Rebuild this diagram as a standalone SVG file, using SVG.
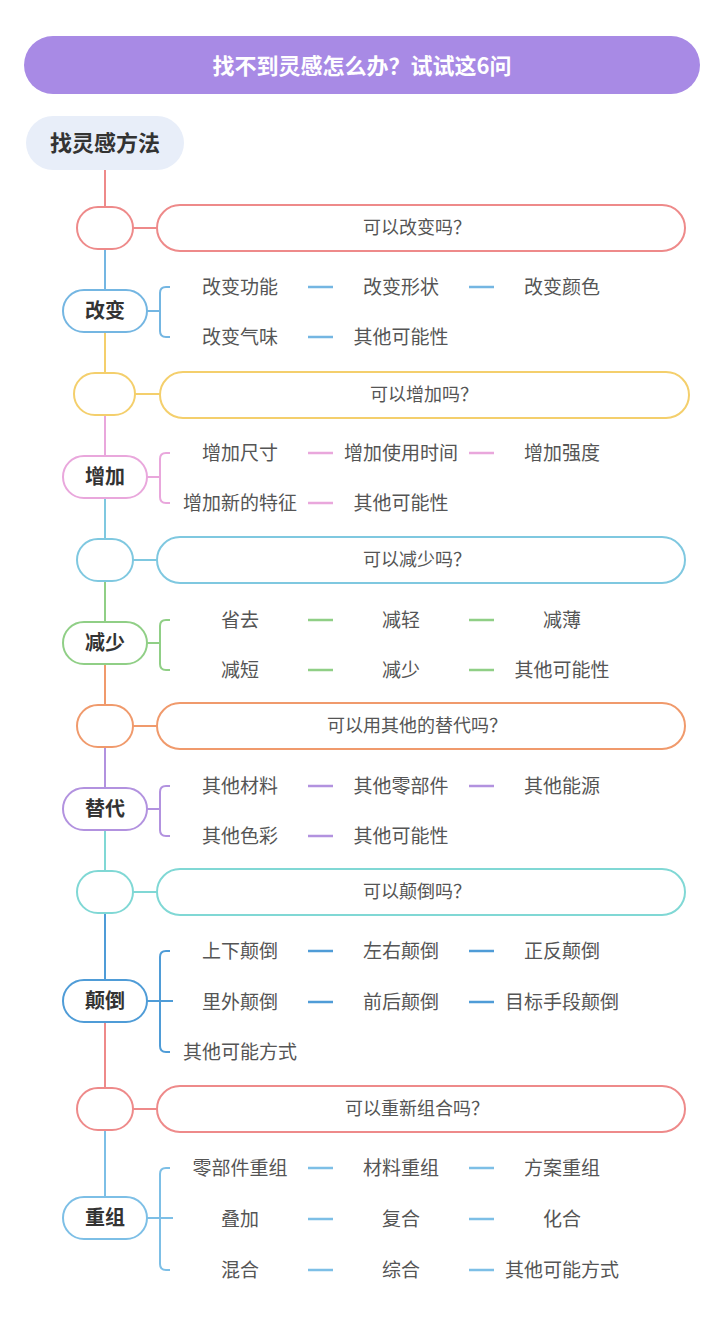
<svg xmlns="http://www.w3.org/2000/svg" width="720" height="1329" viewBox="0 0 720 1329">
<style>
text{font-family:"Noto Sans CJK SC","Noto Sans",sans-serif;dominant-baseline:central;text-anchor:middle;transform:translate(0px,-2px)}
.title{font-size:22px;font-weight:bold;fill:#ffffff}
.root{font-size:22px;font-weight:bold;fill:#333333}
.node{font-size:20px;font-weight:bold;fill:#333333}
.q{font-size:18px;fill:#555555}
.c{font-size:19px;fill:#555555}
.ln{fill:none;stroke-width:2}
.dash{stroke-width:2.5;fill:none}
.red{stroke:#ee8a8a}.blue{stroke:#74b6e2}.yel{stroke:#f4cf6c}.pink{stroke:#e9a7dc}.cyan{stroke:#7fc8e0}.green{stroke:#90cf86}.orng{stroke:#f09a6c}.purp{stroke:#b292df}.teal{stroke:#80d8d5}.dblue{stroke:#4f9cd7}.lblue{stroke:#7dbfe6}
</style>
<rect width="720" height="1329" fill="#ffffff"/>
<g id="title"><rect x="24" y="36" width="676" height="58" rx="29" fill="#a88ae5"/><text class="title" x="362" y="66">找不到灵感怎么办？试试这6问</text></g>
<g id="root"><rect x="26" y="116" width="158" height="54" rx="27" fill="#e8eef9"/><text class="root" x="105" y="143">找灵感方法</text></g>
<g id="connectors">
<line class="ln red" x1="105" y1="170" x2="105" y2="207"/>
<line class="ln blue" x1="105" y1="249" x2="105" y2="290"/>
<line class="ln yel" x1="105" y1="332" x2="105" y2="373"/>
<line class="ln pink" x1="105" y1="415" x2="105" y2="456"/>
<line class="ln cyan" x1="105" y1="498" x2="105" y2="539"/>
<line class="ln green" x1="105" y1="581" x2="105" y2="622"/>
<line class="ln orng" x1="105" y1="664" x2="105" y2="705"/>
<line class="ln purp" x1="105" y1="747" x2="105" y2="788"/>
<line class="ln teal" x1="105" y1="830" x2="105" y2="871"/>
<line class="ln dblue" x1="105" y1="913" x2="105" y2="980"/>
<line class="ln red" x1="105" y1="1022" x2="105" y2="1088"/>
<line class="ln lblue" x1="105" y1="1130" x2="105" y2="1197"/>
<line class="ln red" x1="133" y1="228" x2="157" y2="228"/>
<line class="ln yel" x1="135" y1="394" x2="160" y2="394"/>
<line class="ln cyan" x1="133" y1="560" x2="157" y2="560"/>
<line class="ln orng" x1="133" y1="726" x2="157" y2="726"/>
<line class="ln teal" x1="133" y1="892" x2="157" y2="892"/>
<line class="ln red" x1="133" y1="1109" x2="157" y2="1109"/>
<path class="ln blue" d="M147,311H160M170,287H166Q160,287 160,293V331Q160,337 166,337H170"/>
<path class="ln pink" d="M147,477H160M170,453H166Q160,453 160,459V497Q160,503 166,503H170"/>
<path class="ln green" d="M147,643H160M170,620H166Q160,620 160,626V664Q160,670 166,670H170"/>
<path class="ln purp" d="M147,809H160M170,786H166Q160,786 160,792V830Q160,836 166,836H170"/>
<path class="ln dblue" d="M147,1001H173M170,951H166Q160,951 160,957V1046Q160,1052 166,1052H170"/>
<path class="ln lblue" d="M147,1218H173M170,1168H166Q160,1168 160,1174V1264Q160,1270 166,1270H170"/>
<path class="dash blue" d="M308,287H333M469,287H494M308,337H333"/>
<path class="dash pink" d="M308,453H333M469,453H494M308,503H333"/>
<path class="dash green" d="M308,620H333M469,620H494M308,670H333M469,670H494"/>
<path class="dash purp" d="M308,786H333M469,786H494M308,836H333"/>
<path class="dash dblue" d="M308,951H333M469,951H494M308,1002H333M469,1002H494"/>
<path class="dash lblue" d="M308,1168H333M469,1168H494M308,1219H333M469,1219H494M308,1270H333M469,1270H494"/>
</g>
<g id="s1">
<rect class="ln red" x="77" y="207" width="56" height="42" rx="21" fill="#ffffff"/>
<rect class="ln red" x="157" y="205" width="528" height="46" rx="23" fill="#fde8e8"/>
<text class="q" x="417" y="228">可以改变吗？</text>
<rect class="ln blue" x="63" y="290" width="84" height="42" rx="21" fill="#ffffff"/>
<text class="node" x="105" y="311">改变</text>
<text class="c" x="240" y="287">改变功能</text><text class="c" x="401" y="287">改变形状</text><text class="c" x="562" y="287">改变颜色</text>
<text class="c" x="240" y="337">改变气味</text><text class="c" x="401" y="337">其他可能性</text>
</g>
<g id="s2">
<rect class="ln yel" x="74" y="373" width="61" height="42" rx="21" fill="#ffffff"/>
<rect class="ln yel" x="160" y="372" width="529" height="46" rx="23" fill="#fff4e3"/>
<text class="q" x="424" y="395">可以增加吗？</text>
<rect class="ln pink" x="63" y="456" width="84" height="42" rx="21" fill="#ffffff"/>
<text class="node" x="105" y="477">增加</text>
<text class="c" x="240" y="453">增加尺寸</text><text class="c" x="401" y="453">增加使用时间</text><text class="c" x="562" y="453">增加强度</text>
<text class="c" x="240" y="503">增加新的特征</text><text class="c" x="401" y="503">其他可能性</text>
</g>
<g id="s3">
<rect class="ln cyan" x="77" y="539" width="56" height="42" rx="21" fill="#ffffff"/>
<rect class="ln cyan" x="157" y="537" width="528" height="46" rx="23" fill="#e7f1fb"/>
<text class="q" x="417" y="560">可以减少吗？</text>
<rect class="ln green" x="63" y="622" width="84" height="42" rx="21" fill="#ffffff"/>
<text class="node" x="105" y="643">减少</text>
<text class="c" x="240" y="620">省去</text><text class="c" x="401" y="620">减轻</text><text class="c" x="562" y="620">减薄</text>
<text class="c" x="240" y="670">减短</text><text class="c" x="401" y="670">减少</text><text class="c" x="562" y="670">其他可能性</text>
</g>
<g id="s4">
<rect class="ln orng" x="77" y="705" width="56" height="42" rx="21" fill="#ffffff"/>
<rect class="ln orng" x="157" y="703" width="528" height="46" rx="23" fill="#fde9e1"/>
<text class="q" x="417" y="726">可以用其他的替代吗？</text>
<rect class="ln purp" x="63" y="788" width="84" height="42" rx="21" fill="#ffffff"/>
<text class="node" x="105" y="809">替代</text>
<text class="c" x="240" y="786">其他材料</text><text class="c" x="401" y="786">其他零部件</text><text class="c" x="562" y="786">其他能源</text>
<text class="c" x="240" y="836">其他色彩</text><text class="c" x="401" y="836">其他可能性</text>
</g>
<g id="s5">
<rect class="ln teal" x="77" y="871" width="56" height="42" rx="21" fill="#ffffff"/>
<rect class="ln teal" x="157" y="869" width="528" height="46" rx="23" fill="#e4f6f3"/>
<text class="q" x="417" y="892">可以颠倒吗？</text>
<rect class="ln dblue" x="63" y="980" width="84" height="42" rx="21" fill="#ffffff"/>
<text class="node" x="105" y="1001">颠倒</text>
<text class="c" x="240" y="951">上下颠倒</text><text class="c" x="401" y="951">左右颠倒</text><text class="c" x="562" y="951">正反颠倒</text>
<text class="c" x="240" y="1002">里外颠倒</text><text class="c" x="401" y="1002">前后颠倒</text><text class="c" x="562" y="1002">目标手段颠倒</text>
<text class="c" x="240" y="1052">其他可能方式</text>
</g>
<g id="s6">
<rect class="ln red" x="77" y="1088" width="56" height="42" rx="21" fill="#ffffff"/>
<rect class="ln red" x="157" y="1086" width="528" height="46" rx="23" fill="#fde8e8"/>
<text class="q" x="417" y="1109">可以重新组合吗？</text>
<rect class="ln lblue" x="63" y="1197" width="84" height="42" rx="21" fill="#ffffff"/>
<text class="node" x="105" y="1218">重组</text>
<text class="c" x="240" y="1168">零部件重组</text><text class="c" x="401" y="1168">材料重组</text><text class="c" x="562" y="1168">方案重组</text>
<text class="c" x="240" y="1219">叠加</text><text class="c" x="401" y="1219">复合</text><text class="c" x="562" y="1219">化合</text>
<text class="c" x="240" y="1270">混合</text><text class="c" x="401" y="1270">综合</text><text class="c" x="562" y="1270">其他可能方式</text>
</g>
</svg>
